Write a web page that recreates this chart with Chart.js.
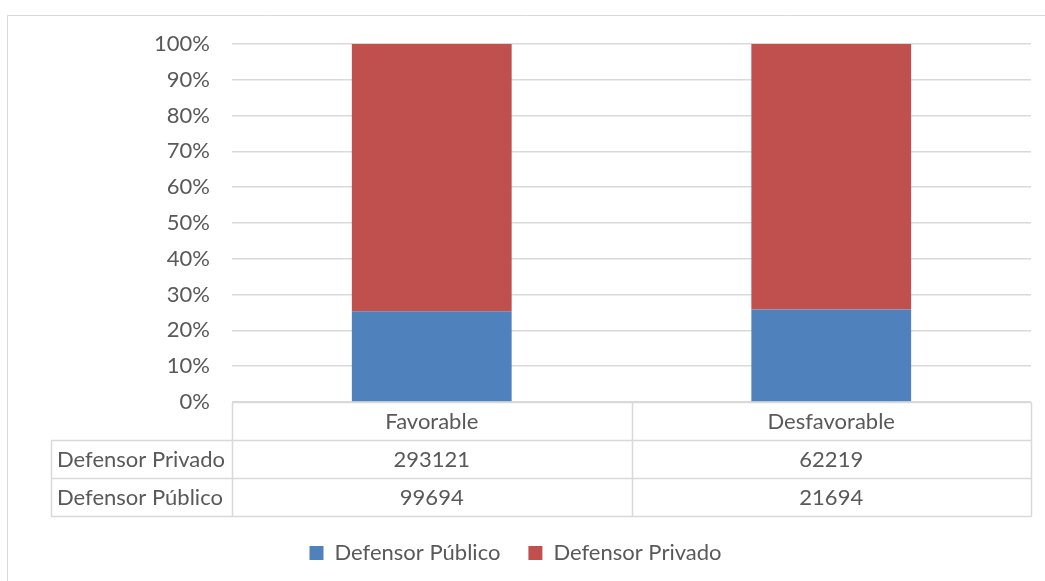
<!DOCTYPE html>
<html>
<head>
<meta charset="utf-8">
<script src="https://cdn.jsdelivr.net/npm/chart.js@4"></script>
<style>
  html, body { margin: 0; padding: 0; background: #ffffff; }
  #wrap { width: 1045px; height: 581px; position: relative; }
</style>
</head>
<body>
<div id="wrap"><canvas id="c" width="1045" height="581"></canvas></div>
<script>
// Resultados por tipo de defensor
const categories = ['Favorable', 'Desfavorable'];
const publico = [99694, 21694];
const privado = [293121, 62219];
const seriesNames = ['Defensor Público', 'Defensor Privado'];
const yTickLabels = ['0%', '10%', '20%', '30%', '40%', '50%', '60%', '70%', '80%', '90%', '100%'];

const totals = categories.map((_, i) => publico[i] + privado[i]);
const share = arr => arr.map((v, i) => v / totals[i] * 100);

const FONT = 'Lato, "Open Sans", sans-serif';
const FONT_SIZE = 22;
const TEXT = '#595959';
const LINE = '#d9d9d9';

// Frame plus the data table underneath the plot
const tablePlugin = {
  id: 'dataTable',
  beforeDraw(chart) {
    const ctx = chart.ctx;
    ctx.save();
    ctx.strokeStyle = LINE;
    ctx.lineWidth = 1;
    ctx.beginPath();
    ctx.moveTo(7.5, chart.height + 5);
    ctx.lineTo(7.5, 15.5);
    ctx.lineTo(chart.width + 5, 15.5);
    ctx.stroke();
    ctx.restore();
  },
  afterDraw(chart) {
    const ctx = chart.ctx;
    const area = chart.chartArea;
    const x = chart.scales.x;
    const rowH = 38;
    const labelLeft = 51;
    const top = area.bottom;
    const rows = [
      { label: seriesNames[1], values: privado },
      { label: seriesNames[0], values: publico }
    ];
    const bottom = top + rowH * (rows.length + 1);
    const snap = v => Math.round(v) + 0.5;

    ctx.save();
    ctx.strokeStyle = LINE;
    ctx.lineWidth = 1.5;
    ctx.beginPath();
    // header row
    ctx.moveTo(snap(area.left), snap(top));
    ctx.lineTo(snap(area.right), snap(top));
    // body rows
    for (let r = 1; r <= rows.length + 1; r++) {
      const y = snap(top + r * rowH);
      ctx.moveTo(labelLeft, y);
      ctx.lineTo(snap(area.right), y);
    }
    // verticals
    ctx.moveTo(labelLeft + 0.5, snap(top + rowH));
    ctx.lineTo(labelLeft + 0.5, snap(bottom));
    ctx.moveTo(snap(area.left), snap(top));
    ctx.lineTo(snap(area.left), snap(bottom));
    for (let i = 0; i < categories.length; i++) {
      const edge = x.getPixelForValue(i) + (x.getPixelForValue(1) - x.getPixelForValue(0)) / 2;
      ctx.moveTo(snap(edge), snap(top));
      ctx.lineTo(snap(edge), snap(bottom));
    }
    ctx.stroke();

    ctx.fillStyle = TEXT;
    ctx.font = FONT_SIZE + 'px ' + FONT;
    ctx.textBaseline = 'middle';
    ctx.textAlign = 'center';
    categories.forEach((c, i) => {
      ctx.fillText(c, x.getPixelForValue(i), top + rowH / 2 + 1);
    });
    rows.forEach((row, r) => {
      const cy = top + (r + 1) * rowH + rowH / 2 + 1;
      ctx.textAlign = 'left';
      ctx.fillText(row.label, labelLeft + 6, cy);
      ctx.textAlign = 'center';
      row.values.forEach((v, i) => {
        ctx.fillText(String(v), x.getPixelForValue(i), cy);
      });
    });
    ctx.restore();
  }
};

new Chart(document.getElementById('c'), {
  type: 'bar',
  data: {
    labels: categories,
    datasets: [
      { label: seriesNames[0], data: share(publico), backgroundColor: '#4f81bd', borderWidth: 0 },
      { label: seriesNames[1], data: share(privado), backgroundColor: '#c0504d', borderWidth: 0 }
    ]
  },
  options: {
    responsive: false,
    animation: false,
    events: [],
    layout: { padding: { top: 44, right: 14, bottom: 7, left: 0 } },
    datasets: { bar: { categoryPercentage: 1.0, barPercentage: 0.4 } },
    scales: {
      x: {
        stacked: true,
        grid: { display: false },
        border: { display: false },
        ticks: { display: false },
        afterFit(scale) { scale.height = 112; }
      },
      y: {
        stacked: true,
        min: 0,
        max: 100,
        afterFit(scale) { scale.width = 232; },
        border: { display: false },
        grid: { color: LINE, lineWidth: 1.5, drawTicks: false },
        ticks: {
          stepSize: 10,
          padding: 22,
          color: TEXT,
          font: { family: FONT, size: FONT_SIZE },
          callback: (v, i) => yTickLabels[i]
        }
      }
    },
    plugins: {
      tooltip: { enabled: false },
      legend: {
        position: 'bottom',
        labels: {
          boxWidth: 14,
          boxHeight: 14,
          padding: 28,
          color: TEXT,
          font: { family: FONT, size: FONT_SIZE }
        }
      }
    }
  },
  plugins: [tablePlugin]
});
</script>
</body>
</html>
